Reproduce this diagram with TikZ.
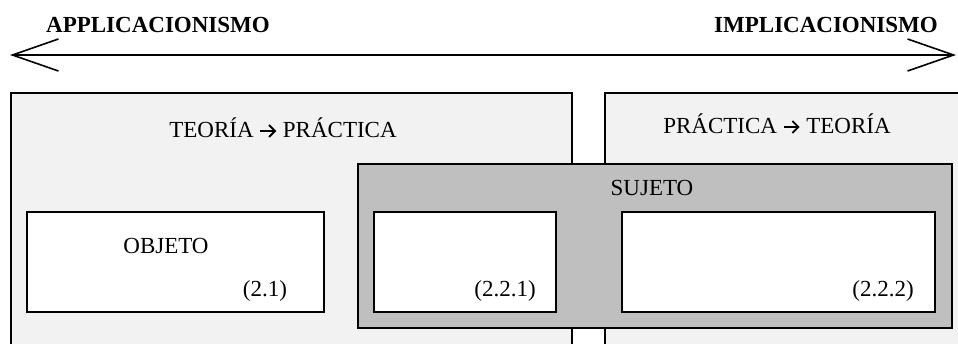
\documentclass[tikz,border=0pt]{standalone}
\usepackage{fontspec}
\setmainfont{Liberation Serif}
\usetikzlibrary{arrows.meta}
\definecolor{boxlight}{HTML}{F2F2F2}
\definecolor{boxdark}{HTML}{BFBFBF}
\newcommand{\thickarrow}{\tikz[x=1pt, y=1pt, baseline=0pt, line width=1.8pt]
	\draw[-{Straight Barb[length=6pt,width=12pt]}] (0,6) -- (16,6);}
\tikzset{
	every box/.style={
		rectangle,
		draw,
		line width=1.6pt,
		anchor=north west,
		inner sep=0pt
	},
	box outer/.style={
		fill=boxlight,
		minimum height=300pt
	},
	box subject/.style={
		fill=boxdark,
		minimum height=164pt
	},
	box inner/.style={
		fill=white,
		minimum height=100pt
	},
	label text/.style={
		anchor=base,
		inner sep=0pt,
		font=\fontsize{23}{27}\selectfont
	},
	title text/.style={
		label text,
		font=\fontsize{23}{27}\selectfont\bfseries
	},
}

\begin{document}
\begin{tikzpicture}[x=1pt, y=-1pt, >={Straight Barb[length=46pt,width=32pt]}]
\useasboundingbox (0,0) rectangle (958,343);
\clip (0,0) rectangle (958,343);

\coordinate (arrow-left) at (10,55);
\coordinate (arrow-right) at (956,55);
\draw [<->, line width=1.6pt] (arrow-left) -- (arrow-right);

\node [title text] (applic) at (158,32) {APPLICACIONISMO};
\node [title text] (implic) at (826,32) {IMPLICACIONISMO};

\node [every box, box outer, minimum width=561pt] (theory) at (10,92) {};
\node [every box, box outer, minimum width=400pt] (practice) at (604,92) {};
\node [every box, box subject, minimum width=594pt] (subject) at (357,163) {};

\foreach \x/\w [count=\i] in {26/297, 373/182, 621/313}
	\node [every box, box inner, minimum width=\w pt] (inner-\i) at (\x,211) {};

\node [label text] (theory-title) at (283,137) {TEORÍA \thickarrow{} PRÁCTICA};
\node [label text] (practice-title) at (777,133) {PRÁCTICA \thickarrow{} TEORÍA};
\node [label text] (subject-title) at (652,195) {SUJETO};
\node [label text] (object-title) at (166,253) {OBJETO};

\foreach \x/\l [count=\i] in {265/2.1, 505/2.2.1, 883/2.2.2}
	\node [label text] (number-\i) at (\x,296) {(\l)};

\end{tikzpicture}
\end{document}
